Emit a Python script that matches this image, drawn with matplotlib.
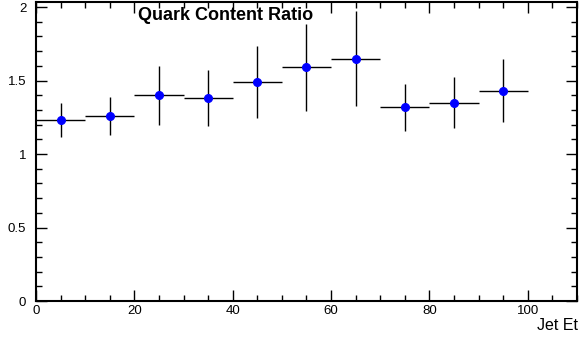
import numpy as np
import matplotlib.pyplot as plt
from matplotlib.ticker import MultipleLocator

plt.rcParams['font.family'] = ['Liberation Sans', 'DejaVu Sans']

# data
jet_et = [5, 15, 25, 35, 45, 55, 65, 75, 85, 95]
bin_half = [5, 5, 5, 5, 5, 5, 5, 5, 5, 5]
ratio = [1.23, 1.26, 1.40, 1.38, 1.49, 1.59, 1.65, 1.32, 1.35, 1.43]
ratio_err = [0.115, 0.13, 0.20, 0.19, 0.245, 0.295, 0.325, 0.16, 0.175, 0.215]

fig = plt.figure(figsize=(5.79, 3.41), dpi=100)
ax = fig.add_axes([0.0622, 0.117, 0.9343, 0.877])

ax.errorbar(jet_et, ratio, xerr=bin_half, yerr=ratio_err, fmt='o',
            color='black', ecolor='black', elinewidth=1.0, capsize=0,
            markerfacecolor='blue', markeredgecolor='blue', markersize=5.5)

ax.set_xlim(0, 110)
ax.set_ylim(0, 2.034)

ax.xaxis.set_major_locator(MultipleLocator(20))
ax.xaxis.set_minor_locator(MultipleLocator(5))
ax.yaxis.set_major_locator(MultipleLocator(0.5))
ax.yaxis.set_minor_locator(MultipleLocator(0.1))
ax.set_yticks([0, 0.5, 1, 1.5, 2])
ax.set_yticklabels(['0', '0.5', '1', '1.5', '2'])

ax.tick_params(which='both', direction='in', top=True, right=True,
               labelsize=9.5, width=1)
ax.tick_params(which='major', length=8)
ax.tick_params(which='minor', length=4)
ax.tick_params(axis='y', pad=7)
ax.tick_params(axis='x', pad=3)

for s in ax.spines.values():
    s.set_linewidth(1.5)

fig.text(0.238, 0.979, 'Quark Content Ratio', fontsize=13,
         fontweight='bold', ha='left', va='top')
fig.text(0.998, 0.045, 'Jet Et', fontsize=11.5, ha='right', va='center')

fig.savefig('out.png', dpi=100)
